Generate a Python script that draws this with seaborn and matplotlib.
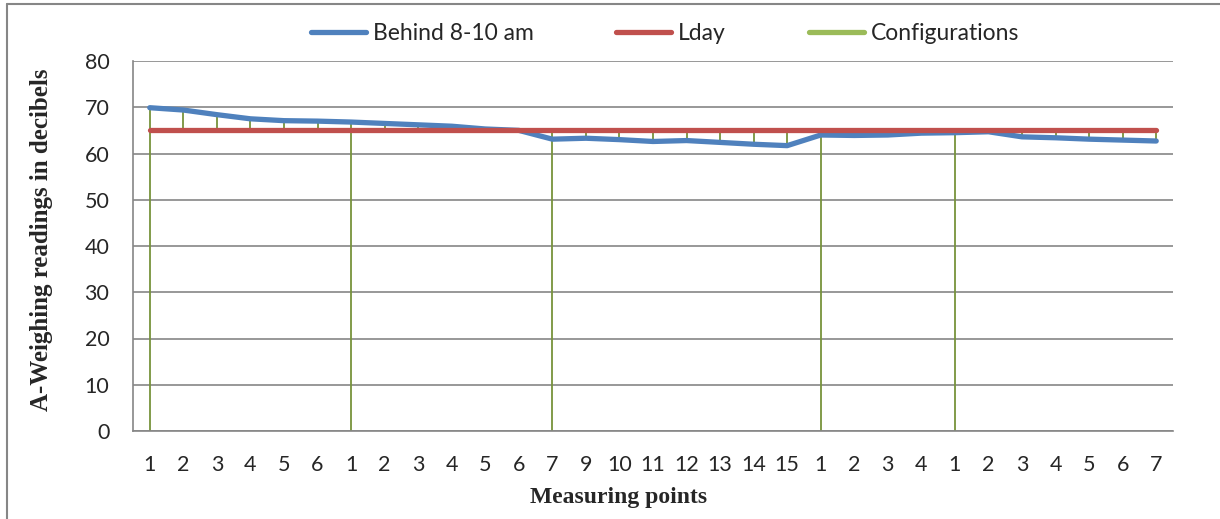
import numpy as np
import pandas as pd
import matplotlib
matplotlib.use("Agg")
import matplotlib.pyplot as plt
from matplotlib.lines import Line2D
import seaborn as sns

# measuring points along the x axis
points = ["1", "2", "3", "4", "5", "6",
          "1", "2", "3", "4", "5", "6", "7", "9", "10", "11", "12", "13", "14", "15",
          "1", "2", "3", "4",
          "1", "2", "3", "4", "5", "6", "7"]

behind = [69.9, 69.4, 68.4, 67.5, 67.1, 67.0,
          66.8, 66.5, 66.2, 65.9, 65.3, 65.0, 63.1, 63.3, 63.0, 62.6, 62.8, 62.4, 62.0, 61.7,
          64.0, 63.9, 64.0, 64.4,
          64.5, 64.7, 63.6, 63.4, 63.1, 62.9, 62.7]

lday = [65, 65, 65, 65, 65, 65,
        65, 65, 65, 65, 65, 65, 65, 65, 65, 65, 65, 65, 65, 65,
        65, 65, 65, 65,
        65, 65, 65, 65, 65, 65, 65]

nan = np.nan
configurations = [0, nan, nan, nan, nan, nan,
                  0, nan, nan, nan, nan, nan, 0, nan, nan, nan, nan, nan, nan, nan,
                  0, nan, nan, nan,
                  0, nan, nan, nan, nan, nan, nan]

blue = "#4F81BD"
red = "#C0504D"
green_line = "#77933C"
green_legend = "#9BBB59"
grid_grey = "#868686"

sns.set_style("white")
plt.rcParams["font.family"] = ["Lato", "DejaVu Sans"]

pos = np.arange(len(points))
df = pd.DataFrame({"pos": pos, "Behind 8-10 am": behind, "Lday": lday})
long_df = df.melt(id_vars="pos", var_name="series", value_name="value")

fig = plt.figure(figsize=(12.2, 5.19), dpi=100)
ax = fig.add_axes([133 / 1220, 1 - 431 / 519, 1040 / 1220, 370 / 519])

# high-low lines across all series (Excel style)
stack = np.vstack([behind, lday, configurations])
lo = np.nanmin(stack, axis=0)
hi = np.nanmax(stack, axis=0)
ax.vlines(pos, lo, hi, color=green_line, lw=1.3, zorder=2)

sns.lineplot(data=long_df, x="pos", y="value", hue="series",
             palette={"Behind 8-10 am": blue, "Lday": red},
             linewidth=3.8, sort=False, legend=False, ax=ax, zorder=3)
for ln in ax.lines:
    ln.set_solid_capstyle("round")
    ln.set_solid_joinstyle("round")

ax.set_xlim(-0.5, len(points) - 0.5)
ax.set_ylim(0, 80)
ax.set_yticks(range(0, 81, 10))
ax.set_xticks(pos)
ax.set_xticklabels(points)
ax.yaxis.grid(True, color=grid_grey, lw=1.2)
ax.set_axisbelow(True)

for s in ["top", "right"]:
    ax.spines[s].set_visible(False)
ax.spines["left"].set_color(grid_grey)
ax.spines["left"].set_linewidth(1.2)
ax.spines["bottom"].set_color(grid_grey)
ax.spines["bottom"].set_linewidth(1.2)

ax.tick_params(axis="y", length=6, width=1.2, color=grid_grey, pad=11, labelsize=15.5)
ax.tick_params(axis="x", length=0, pad=17, labelsize=15.5)

ax.set_xlabel("Measuring points", fontsize=17, fontweight="bold", family="Liberation Serif")
ax.xaxis.set_label_coords(0.467, -0.150)
ax.set_ylabel("A-Weighing readings in decibels", fontsize=18, fontweight="bold",
              family="Liberation Serif")
ax.yaxis.set_label_coords(-0.077, 0.516)

handles = [Line2D([], [], color=blue, lw=3.8, solid_capstyle="round"),
           Line2D([], [], color=red, lw=3.8, solid_capstyle="round"),
           Line2D([], [], color=green_legend, lw=3.8, solid_capstyle="round")]
fig.legend(handles, ["Behind 8-10 am", "Lday", "Configurations"], loc="center",
           bbox_to_anchor=(665 / 1220, 1 - 34 / 519), ncol=3, frameon=False,
           fontsize=16.5, handlelength=2.4, handletextpad=0.3, columnspacing=3.6)

# chart border (only left and top edges are visible in the crop)
fig.add_artist(plt.Line2D([7 / 1220, 7 / 1220], [0, 1 - 4 / 519], transform=fig.transFigure,
                          color=grid_grey, lw=1.5))
fig.add_artist(plt.Line2D([7 / 1220, 1], [1 - 4 / 519, 1 - 4 / 519], transform=fig.transFigure,
                          color=grid_grey, lw=1.5))

fig.savefig("out.png", dpi=100)
